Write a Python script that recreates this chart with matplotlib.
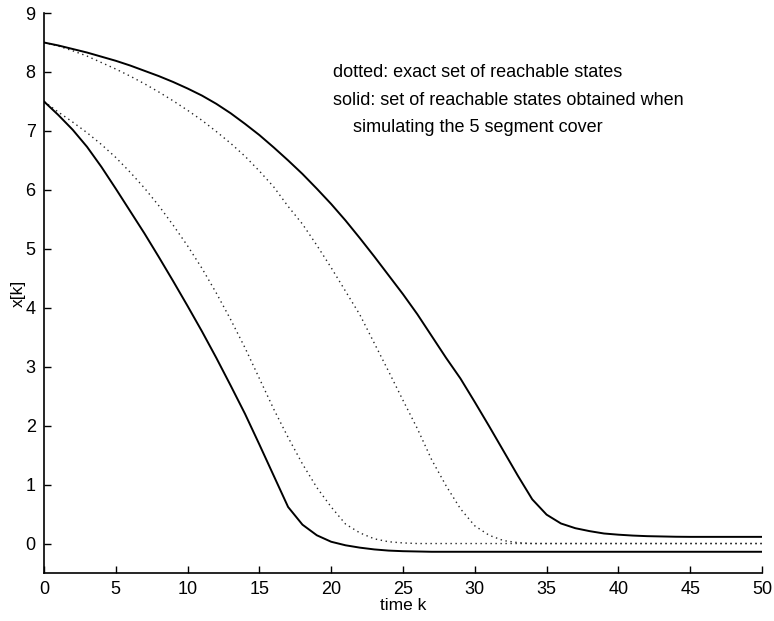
import numpy as np
import matplotlib
matplotlib.use("Agg")
import matplotlib.pyplot as plt

plt.rcParams['font.family'] = ['Liberation Sans', 'DejaVu Sans']

k = np.arange(0, 51)

# exact set of reachable states (lower / upper bound)
exact_low = [7.5, 7.32, 7.15, 6.97, 6.77, 6.55, 6.3, 6.03, 5.73, 5.4,
             5.05, 4.67, 4.25, 3.8, 3.32, 2.8, 2.28, 1.8, 1.35, 0.95,
             0.62, 0.33, 0.18, 0.08, 0.03, 0.01] + [0.0] * 25
exact_high = [8.5, 8.44, 8.36, 8.27, 8.16, 8.05, 7.93, 7.8, 7.66, 7.51,
              7.35, 7.18, 6.99, 6.79, 6.57, 6.32, 6.05, 5.72, 5.42, 5.06,
              4.68, 4.28, 3.88, 3.4, 2.92, 2.43, 1.95, 1.42, 0.98, 0.59,
              0.3, 0.14, 0.05, 0.015] + [0.0] * 17

# 5 segment cover simulation (lower / upper bound)
cover_low = [7.5, 7.27, 7.02, 6.73, 6.39, 6.02, 5.64, 5.26, 4.86, 4.45,
             4.03, 3.6, 3.15, 2.68, 2.2, 1.68, 1.15, 0.62, 0.32, 0.14,
             0.03, -0.03, -0.07, -0.1, -0.12, -0.13, -0.135] + [-0.14] * 24
cover_high = [8.5, 8.45, 8.39, 8.33, 8.26, 8.19, 8.11, 8.02, 7.93, 7.83,
              7.72, 7.6, 7.46, 7.3, 7.12, 6.93, 6.72, 6.5, 6.27, 6.02,
              5.76, 5.48, 5.18, 4.87, 4.55, 4.23, 3.89, 3.52, 3.15, 2.8,
              2.4, 1.99, 1.57, 1.15, 0.75, 0.49, 0.34, 0.26, 0.21, 0.17,
              0.15, 0.135, 0.125, 0.12, 0.115] + [0.113] * 6

fig = plt.figure(figsize=(7.74, 6.21), dpi=100)
ax = fig.add_axes([0.0568, 0.0773, 0.9277, 0.9017])

dot = dict(color='0.15', lw=1.0, linestyle=(0, (1, 2.6)))
ax.plot(k, exact_low, **dot)
ax.plot(k, exact_high, **dot)
ax.plot(k, cover_low, color='black', lw=1.4)
ax.plot(k, cover_high, color='black', lw=1.4)

ax.set_xlim(0, 50)
ax.set_ylim(-0.5, 9)
ax.set_xticks(range(0, 51, 5))
ax.set_yticks(range(0, 10))
for s in ['top', 'right']:
    ax.spines[s].set_visible(False)
for s in ['left', 'bottom']:
    ax.spines[s].set_linewidth(1.2)
ax.tick_params(direction='in', length=5, width=1, labelsize=13, pad=6)

ax.set_xlabel('time k', fontsize=12.5, labelpad=0)
ax.set_ylabel('x[k]', fontsize=12.5, labelpad=0)

notes = ['dotted: exact set of reachable states',
         'solid: set of reachable states obtained when',
         'simulating the 5 segment cover']
ax.text(0.4025, 0.8946, notes[0], transform=ax.transAxes, fontsize=13, va='center')
ax.text(0.4025, 0.8446, notes[1], transform=ax.transAxes, fontsize=13, va='center')
ax.text(0.430, 0.7964, notes[2], transform=ax.transAxes, fontsize=13, va='center')

fig.savefig('out.png', dpi=100)
